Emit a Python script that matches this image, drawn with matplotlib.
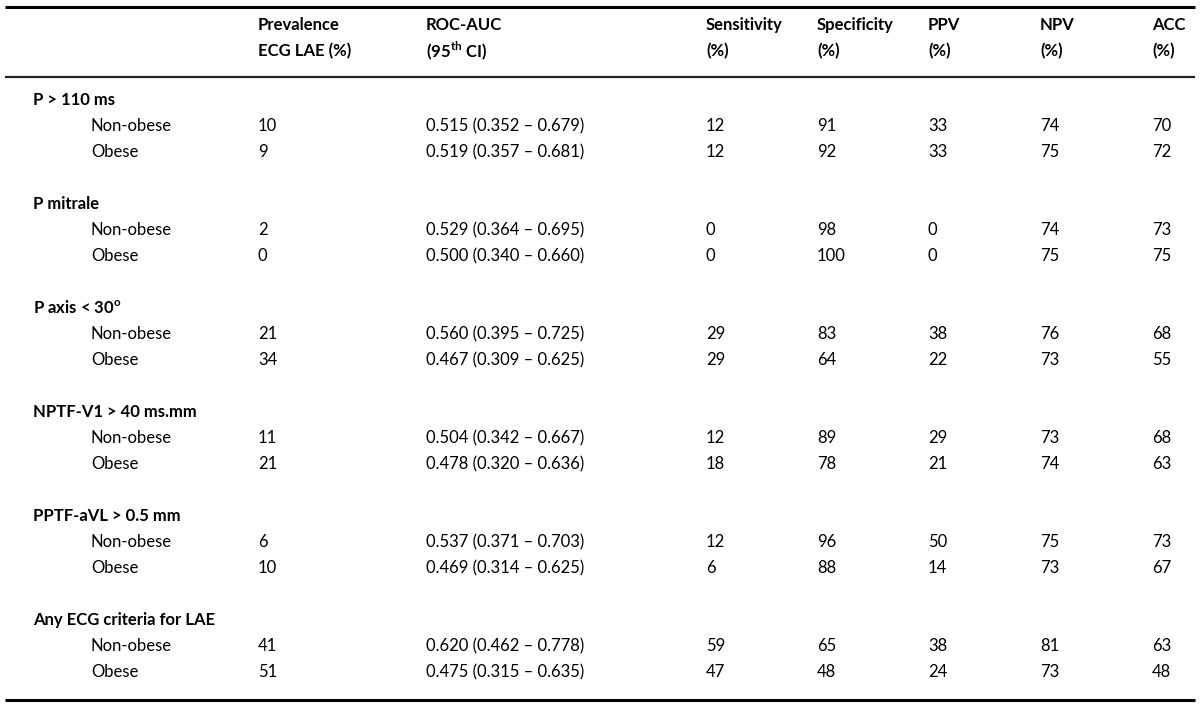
import matplotlib.pyplot as plt

plt.rcParams['font.family'] = ['Lato', 'DejaVu Sans']
plt.rcParams['mathtext.fontset'] = 'custom'
plt.rcParams['mathtext.rm'] = 'Lato'
plt.rcParams['mathtext.bf'] = 'Lato:bold'

# table data
header_1 = ['Prevalence', 'ROC-AUC', 'Sensitivity', 'Specificity', 'PPV', 'NPV', 'ACC']
header_2 = ['ECG LAE (%)', r'(95$^{\mathbf{th}}$ CI)', '(%)', '(%)', '(%)', '(%)', '(%)']
groups = ['P > 110 ms', 'P mitrale', r'P axis < 30$^{\mathbf{o}}$', 'NPTF-V1 > 40 ms.mm',
          'PPTF-aVL > 0.5 mm', 'Any ECG criteria for LAE']
subgroups = ['Non-obese', 'Obese']
prevalence = [[10, 9], [2, 0], [21, 34], [11, 21], [6, 10], [41, 51]]
roc_auc = [['0.515 (0.352 – 0.679)', '0.519 (0.357 – 0.681)'],
           ['0.529 (0.364 – 0.695)', '0.500 (0.340 – 0.660)'],
           ['0.560 (0.395 – 0.725)', '0.467 (0.309 – 0.625)'],
           ['0.504 (0.342 – 0.667)', '0.478 (0.320 – 0.636)'],
           ['0.537 (0.371 – 0.703)', '0.469 (0.314 – 0.625)'],
           ['0.620 (0.462 – 0.778)', '0.475 (0.315 – 0.635)']]
sensitivity = [[12, 12], [0, 0], [29, 29], [12, 18], [12, 6], [59, 47]]
specificity = [[91, 92], [98, 100], [83, 64], [89, 78], [96, 88], [65, 48]]
ppv = [[33, 33], [0, 0], [38, 22], [29, 21], [50, 14], [38, 24]]
npv = [[74, 75], [74, 75], [76, 73], [73, 74], [75, 73], [81, 73]]
acc = [[70, 72], [73, 75], [68, 55], [68, 63], [73, 67], [63, 48]]

# layout (pixel units)
W, H = 1200, 709
x_group = 33
x_sub = 91
x_cols = [258, 426, 706, 817, 928, 1040, 1152]
fs = 12

fig = plt.figure(figsize=(W / 100, H / 100), dpi=100)
ax = fig.add_axes([0, 0, 1, 1])
ax.set_xlim(0, W)
ax.set_ylim(H, 0)
ax.axis('off')

# rules
ax.plot([5, 1195], [7, 7], color='black', lw=2.2, solid_capstyle='butt')
ax.plot([5, 1195], [77, 77], color='#222222', lw=1.6, solid_capstyle='butt')
ax.plot([5, 1195], [700, 700], color='black', lw=2.2, solid_capstyle='butt')

# header
for x, h1, h2 in zip(x_cols, header_1, header_2):
    ax.text(x, 25, h1, fontsize=fs, fontweight='bold', ha='left', va='center')
    ax.text(x, 51, h2, fontsize=fs, fontweight='bold', ha='left', va='center')

# body
y0 = 100
row_h = 26
for g, name in enumerate(groups):
    yg = y0 + g * 4 * row_h
    ax.text(x_group, yg, name, fontsize=fs, fontweight='bold', ha='left', va='center')
    for s, sub in enumerate(subgroups):
        y = yg + (s + 1) * row_h
        vals = [prevalence[g][s], roc_auc[g][s], sensitivity[g][s], specificity[g][s],
                ppv[g][s], npv[g][s], acc[g][s]]
        ax.text(x_sub, y, sub, fontsize=fs, ha='left', va='center')
        for x, v in zip(x_cols, vals):
            ax.text(x, y, str(v), fontsize=fs, ha='left', va='center')

fig.savefig('out.png', dpi=100)
